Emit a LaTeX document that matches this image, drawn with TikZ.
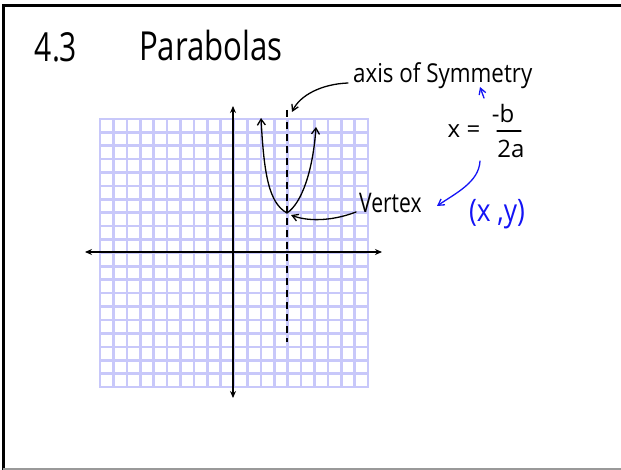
\documentclass[tikz,border=0pt]{standalone}
\usepackage{fontspec}
\setmainfont{Open Sans}
\usetikzlibrary{arrows.meta}
\definecolor{gridc}{RGB}{200,200,250}
\definecolor{inkblue}{RGB}{20,20,245}
\tikzset{
  ink/.style={line width=1.3pt, black, line cap=round},
  tipped/.style={ink, -{Straight Barb[length=6pt,width=7pt]}},
  bluetip/.style={line width=1.3pt, inkblue, line cap=round, -{Straight Barb[length=6pt,width=7pt]}},
  hand/.style={inner sep=0pt, font=\fontsize{24}{26}\selectfont},
  cell/.style={fill=white, draw=none},
}
\begin{document}
\begin{tikzpicture}[x=1pt,y=-1pt]
\useasboundingbox (0,0) rectangle (621,470);
% frame
\draw[line width=3pt] (3.5,470) -- (3.5,6) -- (621,6);
\draw[line width=2pt, gray!80] (3,469) -- (621,469);
% grid
\fill[gridc] (98.7,117.7) rectangle (369.3,388.3);
\foreach \i in {0,...,19}{
  \foreach \j in {0,...,19}{
    \pgfmathsetmacro{\ax}{100+13.4*\i+1.3}
    \pgfmathsetmacro{\ay}{119+13.4*\j+1.3}
    \pgfmathsetmacro{\bx}{100+13.4*\i+12.1}
    \pgfmathsetmacro{\by}{119+13.4*\j+12.1}
    \fill[white] (\ax,\ay) rectangle (\bx,\by);
  }
}
% axes
\coordinate (ytop) at (233,106);
\coordinate (ybot) at (233,398);
\coordinate (xl) at (85,252);
\coordinate (xr) at (382,252);
\draw[line width=1.8pt, {Stealth[length=7pt,width=6pt]}-{Stealth[length=7pt,width=6pt]}] (ybot) -- (ytop);
\draw[line width=1.8pt, {Stealth[length=7pt,width=6pt]}-{Stealth[length=7pt,width=6pt]}] (xl) -- (xr);
% axis of symmetry
\coordinate (stop) at (287,110);
\coordinate (sbot) at (287,342);
\draw[line width=1.5pt, dash pattern=on 7pt off 5pt] (stop) -- (sbot);
% parabola
\coordinate (vtx) at (287,213);
\coordinate (larm) at (261,118);
\coordinate (rarm) at (316,127);
\draw[ink, {Straight Barb[length=6pt,width=8pt]}-{Straight Barb[length=6pt,width=8pt]}]
  (larm) .. controls (264,175) and (269,203) .. (vtx) .. controls (302,203) and (313,170) .. (rarm);
% titles
\node[inner sep=0pt, font=\fontsize{40}{44}\selectfont, xscale=0.75] (num) at (56,47) {4.3};
\node[inner sep=0pt, font=\fontsize{40}{44}\selectfont, xscale=0.78] (title) at (211,46) {Parabolas};
% labels
\node[hand, anchor=west, font=\fontsize{26}{28}\selectfont, xscale=0.86] (axis) at (353,76) {axis of Symmetry};
\coordinate (a0) at (348,83);
\coordinate (a1) at (292,112);
\draw[tipped] (a0) .. controls (322,84) and (300,95) .. (a1);
\node[hand, anchor=west, font=\fontsize{27}{29}\selectfont, xscale=0.78] (vertex) at (359,203) {Vertex};
\coordinate (v0) at (356,212);
\coordinate (v1) at (291,215);
\draw[tipped] (v0) .. controls (330,222) and (306,221) .. (v1);
% formula
\node[hand] (xeq) at (464,131) {x =};
\node[hand] (num2) at (503,114) {-b};
\coordinate (fb1) at (497,131);
\coordinate (fb2) at (521,131);
\draw[ink] (fb1) -- (fb2);
\node[hand] (den) at (511,149) {2a};
% blue
\coordinate (bu0) at (484,98);
\coordinate (bu1) at (480,87);
\draw[bluetip] (bu0) -- (bu1);
\coordinate (bc0) at (480,161);
\coordinate (bc1) at (437,206);
\draw[bluetip] (bc0) .. controls (479,182) and (456,193) .. (bc1);
\node[hand, text=inkblue, font=\fontsize{31}{33}\selectfont, xscale=0.85] (xy) at (497,214) {(x ,y)};
\end{tikzpicture}
\end{document}
